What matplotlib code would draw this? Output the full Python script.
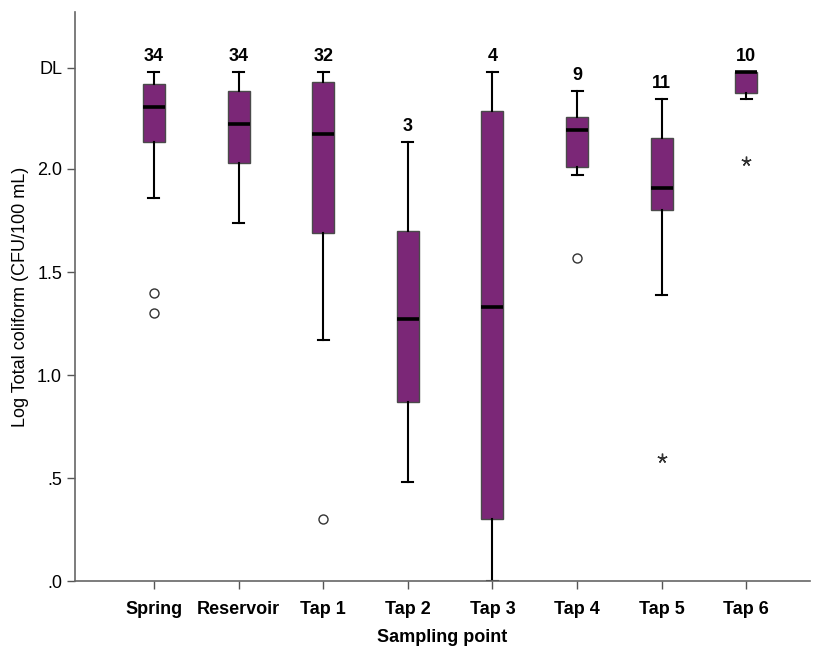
import matplotlib
matplotlib.use("Agg")
import matplotlib.pyplot as plt

plt.rcParams['font.family'] = ['Liberation Sans', 'DejaVu Sans']

# Values (log CFU/100 mL)
sites = ['Spring', 'Reservoir', 'Tap 1', 'Tap 2', 'Tap 3', 'Tap 4', 'Tap 5', 'Tap 6']
n_samples = [34, 34, 32, 3, 4, 9, 11, 10]
whisk_lo = [1.86, 1.74, 1.17, 0.48, 0.00, 1.97, 1.39, 2.34]
q1 = [2.13, 2.03, 1.69, 0.87, 0.30, 2.01, 1.80, 2.37]
median = [2.30, 2.22, 2.17, 1.27, 1.33, 2.19, 1.91, 2.47]
q3 = [2.41, 2.38, 2.42, 1.70, 2.28, 2.25, 2.15, 2.47]
whisk_hi = [2.47, 2.47, 2.47, 2.13, 2.47, 2.38, 2.34, 2.47]
outliers = [[1.40, 1.30], [], [0.30], [], [], [1.57], [], []]
extremes = [[], [], [], [], [], [], [0.60], [2.04]]

DL = 2.49
yticks = [0.0, 0.5, 1.0, 1.5, 2.0, DL]
ytick_labels = ['.0', '.5', '1.0', '1.5', '2.0', 'DL']

purple = '#7B2777'

fig = plt.figure(figsize=(8.18, 6.48), dpi=100)
ax = fig.add_axes([0.092, 0.103, 0.898, 0.878])

stats = []
for i in range(len(sites)):
    stats.append(dict(med=median[i], q1=q1[i], q3=q3[i],
                      whislo=whisk_lo[i], whishi=whisk_hi[i],
                      fliers=outliers[i], label=sites[i]))

pos = list(range(len(sites)))
ax.bxp(stats, positions=pos, widths=0.26, capwidths=0.13, patch_artist=True,
       boxprops=dict(facecolor=purple, edgecolor='#4a4a4a', linewidth=1.0),
       medianprops=dict(color='black', linewidth=2.6),
       whiskerprops=dict(color='black', linewidth=1.5),
       capprops=dict(color='black', linewidth=1.5),
       flierprops=dict(marker='o', markersize=6.5, markerfacecolor='none',
                       markeredgecolor='#333333', markeredgewidth=1.0))

for i in range(len(sites)):
    if extremes[i]:
        ax.plot([pos[i]] * len(extremes[i]), extremes[i], linestyle='none',
                marker=(5, 2, 0), markersize=7, color='#333333', markeredgewidth=1.0)
    # sample count above each box
    ax.annotate(str(n_samples[i]), (pos[i], whisk_hi[i]), xytext=(0, 5),
                textcoords='offset points', ha='center', va='bottom',
                fontsize=13, fontweight='bold')

ax.set_xlim(-0.93, 7.75)
ax.set_ylim(0, 2.76)
ax.set_yticks(yticks)
ax.set_yticklabels(ytick_labels, fontsize=13)
ax.set_xticks(pos)
ax.set_xticklabels(sites, fontsize=13, fontweight='bold')
ax.tick_params(axis='both', length=6, width=1.0, color='#555555')
ax.tick_params(axis='x', pad=8)

for side in ['top', 'right']:
    ax.spines[side].set_visible(False)
for side in ['left', 'bottom']:
    ax.spines[side].set_color('#666666')
    ax.spines[side].set_linewidth(1.2)

ax.set_xlabel('Sampling point', fontsize=13, fontweight='bold', labelpad=8)
ax.set_ylabel('Log Total coliform (CFU/100 mL)', fontsize=13, labelpad=6)

fig.savefig('out.png', dpi=100)
